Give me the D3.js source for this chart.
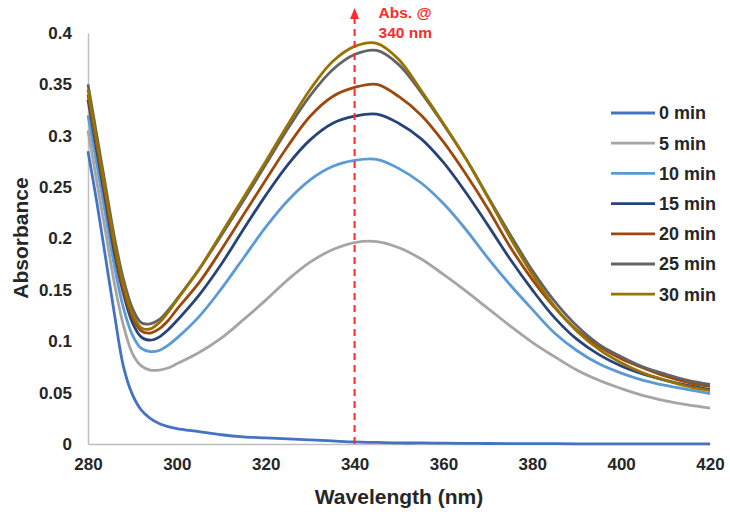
<!DOCTYPE html>
<html>
<head>
<meta charset="utf-8">
<script src="https://cdn.jsdelivr.net/npm/d3@7"></script>
<style>
  html, body { margin: 0; padding: 0; background: #fff; }
  svg { display: block; font-family: Arial, "Liberation Sans", sans-serif; }
</style>
</head>
<body>
<svg id="chart" width="730" height="515"></svg>
<script>
// ---- Data ----
const wavelengths = [280,282,284,286,288,290,292,294,296,298,300,305,310,315,320,325,330,335,340,345,350,355,360,365,370,375,380,385,390,395,400,405,410,415,420];
const seriesNames = ["0 min","5 min","10 min","15 min","20 min","25 min","30 min"];
const seriesColors = ["#4472C4","#A5A5A5","#5B9BD5","#264478","#9E480E","#636363","#997300"];

const abs0min  = [0.285,0.235,0.180,0.125,0.075,0.048,0.033,0.025,0.020,0.017,0.015,0.012,0.009,0.007,0.006,0.005,0.004,0.003,0.002,0.0015,0.001,0.001,0.0008,0.0006,0.0005,0.0004,0.0003,0.0003,0.0002,0.0002,0.0001,0.0001,0.0001,0.0001,0.0001];
const abs5min  = [0.305,0.255,0.205,0.155,0.115,0.088,0.076,0.072,0.072,0.074,0.078,0.089,0.103,0.121,0.140,0.160,0.177,0.189,0.196,0.197,0.191,0.180,0.165,0.149,0.132,0.115,0.099,0.085,0.072,0.062,0.054,0.047,0.042,0.038,0.035];
const abs10min = [0.320,0.272,0.222,0.172,0.132,0.106,0.093,0.090,0.091,0.096,0.103,0.124,0.151,0.181,0.211,0.237,0.257,0.270,0.276,0.277,0.268,0.254,0.234,0.209,0.181,0.155,0.131,0.108,0.091,0.078,0.069,0.062,0.057,0.053,0.049];
const abs15min = [0.335,0.285,0.235,0.185,0.146,0.118,0.104,0.101,0.104,0.111,0.120,0.145,0.175,0.209,0.242,0.272,0.296,0.312,0.319,0.321,0.312,0.297,0.274,0.245,0.213,0.180,0.150,0.123,0.102,0.087,0.076,0.068,0.062,0.057,0.053];
const abs20min = [0.340,0.290,0.240,0.190,0.150,0.123,0.110,0.108,0.112,0.120,0.131,0.157,0.189,0.223,0.257,0.290,0.319,0.338,0.347,0.350,0.338,0.320,0.294,0.263,0.229,0.192,0.160,0.133,0.111,0.095,0.083,0.074,0.066,0.060,0.056];
const abs25min = [0.350,0.300,0.250,0.200,0.160,0.132,0.118,0.117,0.121,0.130,0.141,0.170,0.203,0.237,0.272,0.307,0.339,0.364,0.379,0.383,0.369,0.342,0.311,0.278,0.241,0.204,0.169,0.139,0.115,0.097,0.085,0.075,0.068,0.062,0.058];
const abs30min = [0.345,0.295,0.245,0.195,0.155,0.127,0.113,0.112,0.118,0.128,0.140,0.170,0.205,0.240,0.275,0.311,0.345,0.372,0.387,0.390,0.374,0.344,0.312,0.278,0.240,0.201,0.165,0.134,0.110,0.092,0.079,0.069,0.062,0.056,0.052];

const xTicks = [280,300,320,340,360,380,400,420];
const yTicks = [0,0.05,0.1,0.15,0.2,0.25,0.3,0.35,0.4];
const markerWavelength = 340;
const markerLabel = ["Abs. @", "340 nm"];

const allSeries = [abs0min, abs5min, abs10min, abs15min, abs20min, abs25min, abs30min];

// ---- Layout ----
const svg = d3.select("#chart");
const plotL = 88, plotR = 710, plotT = 33, plotB = 444;
const FONT = "Arial, 'Liberation Sans', sans-serif";
const TXT = "#262626";

const x = d3.scaleLinear().domain([280, 420]).range([plotL, plotR]);
const y = d3.scaleLinear().domain([0, 0.4]).range([plotB, plotT]);

// Axes
const xAxis = svg.append("g").attr("transform", `translate(0,${plotB})`)
  .call(d3.axisBottom(x).tickValues(xTicks).tickSize(0).tickPadding(14).tickFormat(d3.format("d")));
xAxis.select(".domain").attr("stroke", "#BFBFBF").attr("stroke-width", 1.5);
xAxis.selectAll("text").attr("font-size", 17).attr("font-weight", "bold").attr("fill", TXT)
  .attr("font-family", FONT);

const yAxis = svg.append("g").attr("transform", `translate(${plotL},0)`)
  .call(d3.axisLeft(y).tickValues(yTicks).tickSize(0).tickPadding(16).tickFormat(d => String(+d.toFixed(2))));
yAxis.select(".domain").attr("stroke", "#BFBFBF").attr("stroke-width", 1.5);
yAxis.selectAll("text").attr("font-size", 17).attr("font-weight", "bold").attr("fill", TXT)
  .attr("font-family", FONT);

// Axis titles
svg.append("text").attr("x", 399).attr("y", 504)
  .attr("text-anchor", "middle").attr("font-size", 21).attr("font-weight", "bold").attr("fill", TXT)
  .text("Wavelength (nm)");
svg.append("text").attr("transform", `translate(28,238) rotate(-90)`)
  .attr("text-anchor", "middle").attr("font-size", 21).attr("font-weight", "bold").attr("fill", TXT)
  .text("Absorbance");

// Lines
const line = d3.line().x((d, i) => x(wavelengths[i])).y(d => y(d)).curve(d3.curveCatmullRom.alpha(0.5));
allSeries.forEach((vals, k) => {
  svg.append("path").datum(vals)
    .attr("fill", "none").attr("stroke", seriesColors[k]).attr("stroke-width", 2.8)
    .attr("stroke-linejoin", "round").attr("d", line);
});

// Legend
const legend = svg.append("g");
seriesNames.forEach((name, k) => {
  const ly = 113 + k * 30.2;
  legend.append("line").attr("x1", 611).attr("x2", 655).attr("y1", ly).attr("y2", ly)
    .attr("stroke", seriesColors[k]).attr("stroke-width", 2.8);
  legend.append("text").attr("x", 659).attr("y", ly).attr("dy", "0.35em")
    .attr("font-size", 18).attr("font-weight", "bold").attr("fill", TXT).text(name);
});

// Marker annotation
const mx = x(markerWavelength);
svg.append("line").attr("x1", mx).attr("x2", mx).attr("y1", plotB).attr("y2", 18)
  .attr("stroke", "#FF2A2A").attr("stroke-width", 2).attr("stroke-dasharray", "7,5");
svg.append("path").attr("d", `M${mx - 4.5},19 L${mx + 4.5},19 L${mx},8 Z`).attr("fill", "#FF2A2A");
markerLabel.forEach((t, i) => {
  svg.append("text").attr("x", mx + 24).attr("y", 18 + i * 20)
    .attr("font-size", 15.5).attr("font-weight", "bold").attr("fill", "#FF2A2A").text(t);
});
</script>
</body>
</html>
